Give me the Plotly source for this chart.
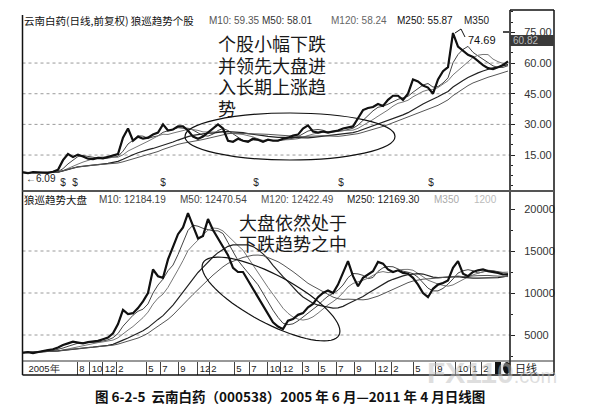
import numpy as np
import pandas as pd
import plotly.graph_objects as go

W, H = 590, 409

# ---------------- data (one sample ~ 3 trading weeks) ----------------
bar_index = list(range(98))
stock_close = [6.5, 6.1, 6.6, 6.4, 6.5, 6.3, 6.8, 7.8, 12.5, 15.5,
               14.0, 15.2, 14.3, 13.2, 13.0, 13.6, 13.4, 14.0, 14.6, 15.5,
               23.5, 28.0, 22.0, 24.0, 23.0, 23.5, 25.0, 26.0, 30.0, 27.0,
               27.5, 29.0, 29.0, 27.0, 24.0, 23.0, 24.0, 26.0, 28.0, 30.0,
               28.0, 22.0, 21.5, 23.0, 22.0, 21.5, 23.0, 22.5, 21.5, 22.5,
               22.0, 22.0, 23.0, 23.5, 24.5, 25.0, 28.0, 29.5, 26.5, 26.0,
               26.5, 26.0, 26.5, 27.0, 28.0, 28.5, 29.0, 33.0, 37.0, 38.0,
               38.5, 40.0, 39.0, 42.0, 44.0, 44.0, 42.0, 45.0, 52.0, 51.0,
               49.0, 48.0, 45.0, 52.0, 56.0, 58.0, 74.69, 68.0, 66.0, 64.0,
               63.0, 61.0, 59.0, 57.5, 57.0, 58.0, 59.0, 60.82]
index_close = [2900, 2950, 2850, 3000, 3100, 3200, 3300, 3500, 3800, 4000,
               4200, 4100, 4000, 4150, 4200, 4300, 4500, 4700, 5200, 6300,
               8000, 7500, 7600, 8200, 9000, 10000, 12800, 12000, 11800, 14000,
               15500, 17000, 17800, 19500, 18000, 16500, 16800, 18800, 17500, 16500,
               15500, 14500, 13000, 12500, 12500, 11500, 10500, 9400, 8500, 7400,
               6500, 6000, 5700, 6700, 6900, 7400, 7600, 8300, 8700, 9500,
               10000, 10300, 10000, 11000, 12500, 13800, 12000, 10800, 11800, 12200,
               12600, 13700, 13500, 12800, 12500, 12700, 12400, 12300, 11800, 11000,
               10000, 9500, 10500, 11000, 11200, 11500, 13000, 13800, 12300, 12000,
               12500, 12700, 12800, 12600, 12500, 12400, 12200, 12200]
ma_names = ["M10", "M50", "M120", "M250", "M350"]
ma_windows = [1, 4, 8, 17, 23]          # in samples
ma_colors = ["#666666", "#444444", "#777777", "#222222", "#555555"]
dividend_bars = [8, 10.4, 28, 46.6, 63.6, 81.6]
stock_ticks = [15, 30, 45, 60, 75]
stock_tick_text = ["15.00", "30.00", "45.00", "60.00", "75.00"]
stock_grid = [15, 30, 45, 60]
index_ticks = [5000, 10000, 15000, 20000]
index_tick_text = ["5000", "10000", "15000", "20000"]
index_grid = [5000, 10000, 15000]
date_tick_pos = [4.2, 11.8, 14.8, 17.4, 19.6, 25.6, 28.4, 32.0, 36.4, 38.2,
                 43.2, 46.2, 50.4, 53.0, 56.8, 60.0, 63.6, 67.2, 72.0, 74.6,
                 79.0, 83.4, 88.0, 90.4, 92.6]
date_tick_text = ["2005年", "8", "10", "12", "2", "5", "7", "9", "12", "2",
                  "5", "7", "10", "12", "3", "5", "7", "9", "12", "2",
                  "5", "9", "10", "1", "2"]

# ---------------- helpers ----------------
def px(x):
    return x / W

def py(y):
    return 1 - y / H

NUM = "Liberation Sans, Arial"
CJK = "Noto Sans CJK SC"

fig = go.Figure()

s_stock = pd.Series(stock_close)
s_index = pd.Series(index_close)
for name, w, c in zip(ma_names, ma_windows, ma_colors):
    fig.add_trace(go.Scatter(x=bar_index, y=s_stock.rolling(w, min_periods=1).mean(),
                             mode="lines", line=dict(color=c, width=1.2 if name == "M250" else 1),
                             xaxis="x", yaxis="y", hoverinfo="skip", showlegend=False))
    fig.add_trace(go.Scatter(x=bar_index, y=s_index.rolling(w, min_periods=1).mean(),
                             mode="lines", line=dict(color=c, width=1.2 if name == "M250" else 1),
                             xaxis="x2", yaxis="y2", hoverinfo="skip", showlegend=False))

fig.add_trace(go.Scatter(x=bar_index, y=stock_close, mode="lines",
                         line=dict(color="#111111", width=2.2), xaxis="x", yaxis="y",
                         showlegend=False))
fig.add_trace(go.Scatter(x=bar_index, y=index_close, mode="lines",
                         line=dict(color="#111111", width=2.2), xaxis="x2", yaxis="y2",
                         showlegend=False))
fig.add_trace(go.Scatter(x=dividend_bars, y=[1.2] * len(dividend_bars), mode="text",
                         text=["$"] * len(dividend_bars),
                         textfont=dict(family=NUM, size=10, color="#222"),
                         xaxis="x", yaxis="y", showlegend=False))

xr = [-0.1, 97.4]
top_dom = [py(183), py(3)]
bot_dom = [py(353), py(183)]
top_rng = [(177.7 - 183) / 2.044, (177.7 - 3) / 2.044]
bot_rng = [(369 - 353) / 8.4 * 1000, (369 - 183) / 8.4 * 1000]

axis_font = dict(family=NUM, size=11, color="#333")
fig.update_layout(
    width=W, height=H, margin=dict(l=0, r=0, t=0, b=0),
    paper_bgcolor="white", plot_bgcolor="white", showlegend=False,
    xaxis=dict(domain=[px(14.5), px(502)], range=xr, showticklabels=False,
               showgrid=False, zeroline=False, anchor="y"),
    yaxis=dict(domain=top_dom, range=top_rng, side="right", anchor="x",
               tickvals=stock_ticks, ticktext=stock_tick_text, ticks="outside", ticklen=4,
               tickcolor="#222", tickfont=axis_font, showgrid=False, zeroline=False,
               ticklabelstandoff=7,
               minor=dict(dtick=5, ticks="outside", ticklen=2, tickcolor="#222")),
    xaxis2=dict(domain=[px(14.5), px(502)], range=xr, anchor="y2",
                tickvals=date_tick_pos, ticktext=date_tick_text, ticks="", tickangle=0,
                tickfont=dict(family=NUM, size=9.5, color="#222"),
                showgrid=False, zeroline=False, ticklabelstandoff=0,
                minor=dict(tickmode="array",
                           tickvals=[p - (2 + 3 * len(t)) / 5 for p, t in zip(date_tick_pos, date_tick_text)][1:],
                           ticks="outside", ticklen=13, tickcolor="#444")),
    yaxis2=dict(domain=bot_dom, range=bot_rng, side="right", anchor="x2",
                tickvals=index_ticks, ticktext=index_tick_text, ticks="outside", ticklen=4,
                tickcolor="#222", tickfont=axis_font, showgrid=False, zeroline=False,
                ticklabelstandoff=7,
                minor=dict(dtick=2500, ticks="outside", ticklen=2, tickcolor="#222")),
)

shapes = []
for v in stock_grid:
    shapes.append(dict(type="line", xref="x domain", yref="y", x0=0, x1=1, y0=v, y1=v,
                       line=dict(color="#9a9a9a", width=1, dash="dot"), layer="below"))
for v in index_grid:
    shapes.append(dict(type="line", xref="x2 domain", yref="y2", x0=0, x1=1, y0=v, y1=v,
                       line=dict(color="#9a9a9a", width=1, dash="dot"), layer="below"))

def seg(x0, y0, x1, y1, w=1.5, c="#111"):
    shapes.append(dict(type="line", xref="paper", yref="paper",
                       x0=px(x0), y0=py(y0), x1=px(x1), y1=py(y1),
                       line=dict(color=c, width=w)))

seg(14.5, 7, 14.5, 367)
seg(502, 2, 502, 367)
seg(546, 2, 546, 367)
seg(502, 2, 546, 2)
seg(14.5, 183, 546, 183, 2, "#555")
seg(14.5, 353, 546, 353, 1, "#333")
seg(14.5, 367, 546, 367, 1.5)

# ellipse on upper panel
shapes.append(dict(type="circle", xref="paper", yref="paper",
                   x0=px(177), x1=px(387), y0=py(152), y1=py(105),
                   line=dict(color="#111", width=1.2)))
# tilted ellipse on lower panel
t = np.linspace(0, 2 * np.pi, 73)
cx, cy, a, b, ang = 263, 291, 77, 24, np.deg2rad(28)
ex = cx + a * np.cos(t) * np.cos(ang) - b * np.sin(t) * np.sin(ang)
ey = cy + a * np.cos(t) * np.sin(ang) + b * np.sin(t) * np.cos(ang)
path = "M " + " L ".join(f"{px(x):.5f},{py(y):.5f}" for x, y in zip(ex, ey)) + " Z"
shapes.append(dict(type="path", xref="paper", yref="paper", path=path,
                   line=dict(color="#111", width=1.2)))
# peak bracket
shapes.append(dict(type="path", xref="paper", yref="paper",
                   path=f"M {px(447)},{py(25)} L {px(453)},{py(21)} L {px(457)},{py(29)}",
                   line=dict(color="#111", width=1)))
# current price box on right axis
shapes.append(dict(type="rect", xref="paper", yref="paper",
                   x0=px(502), x1=px(546), y0=py(38), y1=py(27),
                   fillcolor="#3a3a3a", line=dict(width=0)))
seg(495, 24, 501, 24, 1.5)
# scrollbar blobs
shapes.append(dict(type="rect", xref="paper", yref="paper",
                   x0=px(487), x1=px(493), y0=py(366), y1=py(354),
                   fillcolor="#111", line=dict(width=0)))
shapes.append(dict(type="circle", xref="paper", yref="paper",
                   x0=px(495), x1=px(503), y0=py(366), y1=py(354),
                   fillcolor="#111", line=dict(width=0)))
fig.update_layout(shapes=shapes)

ann = []
def text(x, y, s, size=11, family=NUM, color="#222", xanchor="left", bold=False):
    if bold:
        s = f"<b>{s}</b>"
    ann.append(dict(x=px(x), y=py(y), xref="paper", yref="paper", text=s,
                    showarrow=False, xanchor=xanchor, yanchor="middle",
                    font=dict(family=family, size=size, color=color)))

# headers
text(14, 13, "云南白药(日线,前复权) 狼巡趋势个股", 10.5, CJK, "#111")
text(199, 13, "M10: 59.35", 10, NUM, "#555")
text(252, 13, "M50: 58.01", 10, NUM, "#333")
text(321, 13, "M120: 58.24", 10, NUM, "#666")
text(387, 13, "M250: 55.87", 10, NUM, "#111")
text(454, 13, "M350", 10, NUM, "#222")
text(14, 192, "狼巡趋势大盘", 10.5, CJK, "#111")
text(89, 192, "M10: 12184.19", 10, NUM, "#444")
text(170, 192, "M50: 12470.54", 10, NUM, "#444")
text(251, 192, "M120: 12422.49", 10, NUM, "#555")
text(337, 192, "M250: 12169.30", 10, NUM, "#222")
text(424, 192, "M350", 10, NUM, "#aaa")
text(464, 192, "1200", 10, NUM, "#bbb")

# comments
for i, line in enumerate(["个股小幅下跌", "并领先大盘进", "入长期上涨趋", "势"]):
    text(208, 35 + i * 21.5, line, 18, CJK, "#1a1a1a")
for i, line in enumerate(["大盘依然处于", "下跌趋势之中"]):
    text(229, 214 + i * 21, line, 18, CJK, "#1a1a1a")

text(16, 170, "←6.09", 10, NUM, "#222")
text(458, 32, "74.69", 11, NUM, "#111")
text(503, 33, "60.82", 10, NUM, "#bbb")
text(505, 360, "日线", 11, CJK, "#222")

# watermark
ann.append(dict(x=px(417), y=py(364), xref="paper", yref="paper", showarrow=False,
                xanchor="left", yanchor="middle",
                text="<b>FX110</b><span style='font-size:20px'>.com</span>",
                font=dict(family="Liberation Sans, Arial", size=30, color="rgba(190,190,190,0.5)")))

# caption
text(282, 388, "图 6-2-5  云南白药（000538）2005 年 6 月—2011 年 4 月日线图", 13.5, CJK, "#111",
     xanchor="center", bold=True)

fig.update_layout(annotations=ann)
fig.write_html("out.html")
